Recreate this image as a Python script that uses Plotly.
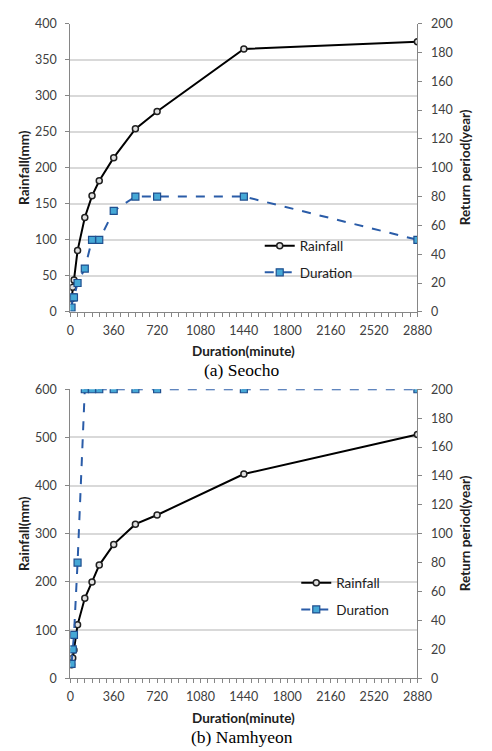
import plotly.graph_objects as go

# ---- data ----
dur_min = [10, 20, 30, 60, 120, 180, 240, 360, 540, 720, 1440, 2880]

seocho_rain = [18, 34, 44, 85, 131, 161, 182, 214, 254, 278, 365, 375]
seocho_period = [3, 10, 10, 20, 30, 50, 50, 70, 80, 80, 80, 50]

namhyeon_rain = [28, 42, 59, 111, 166, 200, 235, 278, 320, 339, 424, 506]
namhyeon_period = [10, 20, 30, 80, 200, 200, 200, 200, 200, 200, 200, 200]

x_ticks = [0, 360, 720, 1080, 1440, 1800, 2160, 2520, 2880]
captions = ["(a) Seocho", "(b) Namhyeon"]

W, H = 492, 751
FONT = "Lato"
TICKC = "#404040"
AXC = "#868686"
GRIDC = "#d9d9d9"

fig = go.Figure()

def px_x(p):
    return p / W

def px_y(p):
    return 1 - p / H

# plot area pixel boxes (left, right, top, bottom)
boxes = [(69, 430, 16, 310), (69, 430, 389, 684)]
left_ranges = [(0, 400, 50), (0, 600, 100)]

datasets = [(seocho_rain, seocho_period), (namhyeon_rain, namhyeon_period)]

for i, ((rain, per), box, lr) in enumerate(zip(datasets, boxes, left_ranges)):
    l, r, t, b = box
    xa = "x" if i == 0 else "x2"
    ya = "y" if i == 0 else "y3"
    ya2 = "y2" if i == 0 else "y4"
    leg = "legend" if i == 0 else "legend2"
    fig.add_trace(go.Scatter(
        x=dur_min, y=rain, name="Rainfall", mode="lines+markers",
        xaxis=xa, yaxis=ya, legend=leg, legendgroup=f"r{i}",
        line=dict(color="#000000", width=2),
        marker=dict(symbol="circle", size=6, color="#e0e0e0",
                    line=dict(color="#202020", width=1.5)),
    ))
    fig.add_trace(go.Scatter(
        x=dur_min, y=per, name="Duration", mode="lines+markers",
        xaxis=xa, yaxis=ya2, legend=leg, legendgroup=f"d{i}",
        line=dict(color="#2a5ca8", width=2, dash="dash"),
        marker=dict(symbol="square", size=7, color="#45a8d6",
                    line=dict(color="#1f4f8f", width=1.2)),
    ))

    xdom = [px_x(l), px_x(r)]
    ydom = [px_y(b), px_y(t)]
    xkey = "xaxis" if i == 0 else "xaxis2"
    ykey = "yaxis" if i == 0 else "yaxis3"
    y2key = "yaxis2" if i == 0 else "yaxis4"
    tf = dict(family=FONT, size=12.5, color=TICKC)
    fig.update_layout({
        xkey: dict(domain=xdom, anchor=ya, range=[0, 2880], tickvals=x_ticks,
                   ticks="outside", ticklen=4, tickcolor=AXC, showline=True,
                   linecolor=AXC, linewidth=1, showgrid=False, zeroline=False,
                   tickfont=tf, ticklabelstandoff=3,
                   minor=dict(dtick=60, ticks="outside", ticklen=4, tickcolor=AXC)),
        ykey: dict(domain=ydom, anchor=xa, range=[lr[0], lr[1]], dtick=lr[2],
                   ticks="outside", ticklen=4, tickcolor=AXC, showline=True,
                   linecolor=AXC, linewidth=1, showgrid=True, gridcolor=GRIDC,
                   gridwidth=1.5, zeroline=False, tickfont=tf,
                   ticklabelstandoff=6),
        y2key: dict(overlaying=ya, side="right", anchor=xa, range=[0, 200], dtick=20,
                    ticks="outside", ticklen=4, tickcolor=AXC, showline=True,
                    linecolor=AXC, linewidth=1, showgrid=False, zeroline=False,
                    tickfont=tf, ticklabelstandoff=6),
    })

    cy = (t + b) / 2
    tfont = dict(family=FONT, size=13.5, color="#202020")
    fig.add_annotation(text="<b>Rainfall(mm)</b>", x=px_x(21), y=px_y(cy),
                       xref="paper", yref="paper", textangle=-90, showarrow=False,
                       xanchor="center", yanchor="middle", font=tfont)
    fig.add_annotation(text="<b>Return period(year)</b>", x=px_x(479), y=px_y(cy),
                       xref="paper", yref="paper", textangle=-90, showarrow=False,
                       xanchor="center", yanchor="middle", font=tfont)
    fig.add_annotation(text="<b>Duration(minute)</b>", x=px_x((l + r) / 2), y=px_y(b + 40),
                       xref="paper", yref="paper", showarrow=False,
                       xanchor="center", yanchor="middle", font=tfont)
    fig.add_annotation(text=captions[i], x=px_x((l + r) / 2 - 2), y=px_y(b + 59.5),
                       xref="paper", yref="paper", showarrow=False,
                       xanchor="center", yanchor="middle",
                       font=dict(family="Liberation Serif", size=17.5, color="#000000"))

fig.update_layout(
    width=W, height=H, margin=dict(l=0, r=0, t=0, b=0),
    paper_bgcolor="white", plot_bgcolor="white", showlegend=True,
    legend=dict(x=px_x(266), y=px_y(227), xanchor="left", yanchor="top",
                bgcolor="rgba(0,0,0,0)", tracegroupgap=6,
                font=dict(family=FONT, size=13.5, color="#202020")),
    legend2=dict(x=px_x(304), y=px_y(571), xanchor="left", yanchor="top",
                 bgcolor="rgba(0,0,0,0)", tracegroupgap=6,
                 font=dict(family=FONT, size=13.5, color="#202020")),
)

fig.write_html("out.html")
